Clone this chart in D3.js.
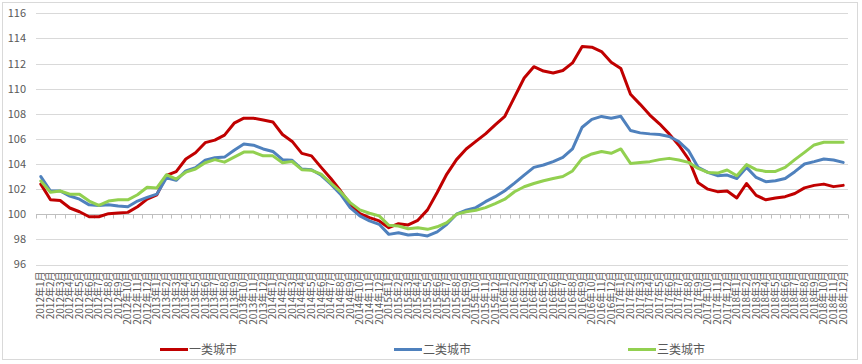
<!DOCTYPE html>
<html>
<head>
<meta charset="utf-8">
<script src="https://cdn.jsdelivr.net/npm/d3@7"></script>
<style>
  body { margin: 0; background: #fff; }
  svg text { font-family: "Noto Sans CJK SC", "DejaVu Sans", sans-serif; }
</style>
</head>
<body>
<svg id="chart" width="862" height="364"></svg>
<script>
'use strict';

const years = [2012, 2013, 2014, 2015, 2016, 2017, 2018];
const months = [1, 2, 3, 4, 5, 6, 7, 8, 9, 10, 11, 12];
const categories = years.flatMap(y => months.map(m => `${y}年${m}月`));

const yTicks = [96, 98, 100, 102, 104, 106, 108, 110, 112, 114, 116];

const tier1 = [
  102.4, 101.15, 101.1, 100.5, 100.2, 99.8, 99.8, 100.05, 100.1, 100.15,
  100.6, 101.2, 101.55, 103.1, 103.4, 104.4, 104.9, 105.7, 105.9, 106.3,
  107.25, 107.65, 107.65, 107.5, 107.35, 106.35, 105.8, 104.85, 104.65, 103.73,
  102.85, 101.87, 100.8, 100.05, 99.73, 99.47, 98.93, 99.25, 99.15, 99.52,
  100.35, 101.73, 103.2, 104.35, 105.2, 105.8, 106.4, 107.12, 107.8, 109.33,
  110.85, 111.75, 111.4, 111.25, 111.45, 112.05, 113.35, 113.3, 112.95, 112.1,
  111.6, 109.55, 108.75, 107.9, 107.2, 106.4, 105.5, 104.4, 102.5, 102.0,
  101.8, 101.85, 101.3, 102.45, 101.5, 101.15, 101.3, 101.4, 101.65, 102.1,
  102.3, 102.4, 102.2, 102.3
];

const tier2 = [
  103.0, 101.85, 101.85, 101.45, 101.2, 100.75, 100.7, 100.75, 100.65, 100.6,
  101.05, 101.35, 101.6, 102.9, 102.7, 103.45, 103.7, 104.3, 104.5, 104.55,
  105.1, 105.6, 105.5, 105.2, 105.0, 104.35, 104.3, 103.6, 103.55, 103.1,
  102.4, 101.6, 100.53, 99.87, 99.47, 99.2, 98.4, 98.53, 98.35, 98.4,
  98.27, 98.6, 99.2, 100.0, 100.32, 100.53, 101.0, 101.4, 101.87, 102.48,
  103.12, 103.73, 103.92, 104.19, 104.53, 105.2, 106.93, 107.55, 107.79, 107.65,
  107.8, 106.67, 106.48, 106.4, 106.35, 106.19, 105.79, 105.07, 103.73, 103.33,
  103.07, 103.12, 102.85, 103.73, 102.93, 102.59, 102.67, 102.85, 103.39, 104.0,
  104.19, 104.4, 104.32, 104.13
];

const tier3 = [
  102.65, 101.75, 101.85, 101.6, 101.6, 101.05, 100.7, 101.05, 101.15, 101.15,
  101.55, 102.15, 102.1, 103.15, 102.8, 103.35, 103.6, 104.1, 104.35, 104.15,
  104.55, 104.95, 104.95, 104.65, 104.65, 104.1, 104.2, 103.55, 103.5, 103.2,
  102.48, 101.8, 100.93, 100.35, 100.08, 99.87, 99.12, 99.07, 98.85, 98.93,
  98.8, 99.0, 99.33, 100.0, 100.2, 100.32, 100.53, 100.85, 101.2, 101.79,
  102.19, 102.45, 102.67, 102.85, 103.01, 103.45, 104.45, 104.8, 105.0, 104.85,
  105.2, 104.05, 104.13, 104.19, 104.35, 104.45, 104.32, 104.13, 103.65, 103.33,
  103.28, 103.52, 103.07, 103.95, 103.55, 103.41, 103.41, 103.73, 104.35, 104.93,
  105.52, 105.73, 105.73, 105.73
];

const seriesNames = ["一类城市", "二类城市", "三类城市"];
const seriesColors = ["#C00000", "#4F81BD", "#92D050"];
const seriesData = [tier1, tier2, tier3];

const svg = d3.select("#chart");
const width = 862, height = 364;
const plot = { left: 36, right: 848, top: 13.3, bottom: 264.5 };

// chart frame
svg.append("rect")
  .attr("x", 2.5).attr("y", 2.5)
  .attr("width", 855).attr("height", 357)
  .attr("fill", "#fff")
  .attr("stroke", "#D9D9D9");

const x = d3.scaleBand().domain(categories).range([plot.left, plot.right]).padding(0);
const y = d3.scaleLinear().domain([96, 116]).range([plot.bottom, plot.top]);
const cx = d => x(d) + x.bandwidth() / 2;

// Grid lines
svg.append("g")
  .selectAll("line")
  .data(yTicks.filter(d => d !== 100))
  .join("line")
  .attr("x1", plot.left).attr("x2", plot.right)
  .attr("y1", d => Math.round(y(d)) + 0.5).attr("y2", d => Math.round(y(d)) + 0.5)
  .attr("stroke", "#D9D9D9");

// y labels
svg.append("g")
  .selectAll("text")
  .data(yTicks)
  .join("text")
  .attr("x", 26)
  .attr("y", d => y(d))
  .attr("dy", "0.36em")
  .attr("text-anchor", "end")
  .attr("font-size", "11px")
  .attr("fill", "#595959")
  .text(d => d);

// category axis crossing at 100
const axisY = Math.round(y(100)) + 0.5;
svg.append("line")
  .attr("x1", plot.left).attr("x2", plot.right)
  .attr("y1", axisY).attr("y2", axisY)
  .attr("stroke", "#BFBFBF");

const boundaries = categories.map(c => x(c)).concat([plot.right]);
svg.append("g")
  .selectAll("line")
  .data(boundaries)
  .join("line")
  .attr("x1", d => Math.round(d) + 0.5).attr("x2", d => Math.round(d) + 0.5)
  .attr("y1", axisY).attr("y2", axisY + 4)
  .attr("stroke", "#BFBFBF");

// x labels, at the bottom of the plot
svg.append("g")
  .selectAll("text")
  .data(categories)
  .join("text")
  .attr("transform", d => `translate(${cx(d)},${plot.bottom + 7}) rotate(-90)`)
  .attr("text-anchor", "end")
  .attr("dy", "0.36em")
  .attr("font-size", "10px")
  .attr("fill", "#595959")
  .text(d => d);

// lines
const line = d3.line()
  .x((d, i) => cx(categories[i]))
  .y(d => y(d));

seriesData.forEach((data, k) => {
  svg.append("path")
    .datum(data)
    .attr("fill", "none")
    .attr("stroke", seriesColors[k])
    .attr("stroke-width", 3)
    .attr("stroke-linejoin", "round")
    .attr("stroke-linecap", "round")
    .attr("d", line);
});

// Legend
const legendX = [160, 394, 628];
const legend = svg.append("g");
seriesNames.forEach((name, k) => {
  legend.append("line")
    .attr("x1", legendX[k]).attr("x2", legendX[k] + 28)
    .attr("y1", 349.5).attr("y2", 349.5)
    .attr("stroke", seriesColors[k])
    .attr("stroke-width", 3);
  legend.append("text")
    .attr("x", legendX[k] + 29)
    .attr("y", 349.5)
    .attr("dy", "0.36em")
    .attr("font-size", "12px")
    .attr("fill", "#595959")
    .text(name);
});
</script>
</body>
</html>
